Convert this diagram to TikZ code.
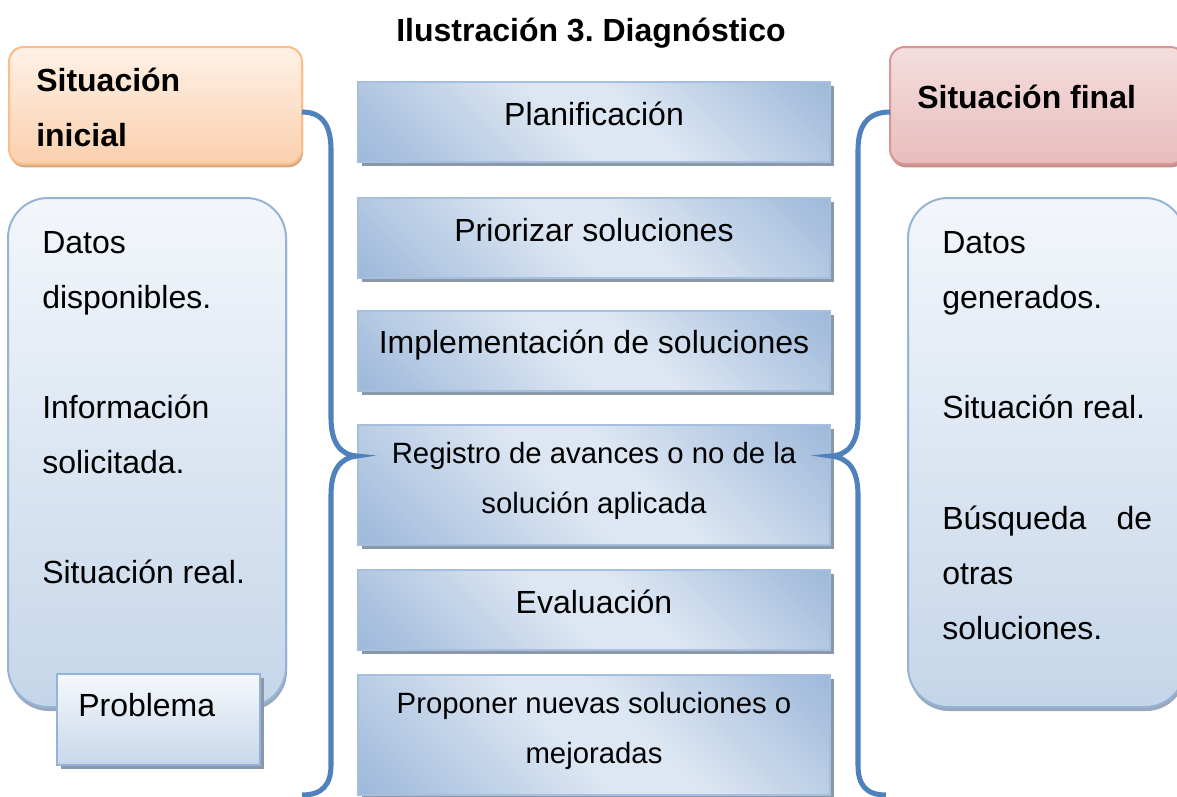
\documentclass[tikz,border=0pt]{standalone}
\usepackage{fontspec}
\setmainfont{Liberation Sans}
\usetikzlibrary{shadows}
\frenchspacing
\definecolor{bracec}{HTML}{4F81BD}
\definecolor{cdark}{HTML}{93B1D6}
\definecolor{clight}{HTML}{DDE7F3}
\definecolor{cborder}{HTML}{A6BFDD}
\definecolor{cshadow}{HTML}{8A98AA}
\definecolor{bigbot}{HTML}{B9CDE5}
\definecolor{bigborder}{HTML}{95B3D7}
\definecolor{bigshadow}{HTML}{9AA8BA}
\definecolor{ortop}{HTML}{FFF8F2}
\definecolor{orbot}{HTML}{FAC9A2}
\definecolor{orborder}{HTML}{F9BE8A}
\definecolor{orshadow}{HTML}{D4A985}
\definecolor{pktop}{HTML}{F6E4E4}
\definecolor{pkbot}{HTML}{E5B7B6}
\definecolor{pkborder}{HTML}{D99694}
\definecolor{pkshadow}{HTML}{C29290}
\pgfdeclareverticalshading{cboxshade}{100bp}{color(0bp)=(cdark); color(10bp)=(cdark); color(46bp)=(clight); color(56bp)=(clight); color(90bp)=(cdark); color(100bp)=(cdark)}
\pgfdeclareverticalshading{bigshade}{100bp}{color(0bp)=(bigbot); color(12bp)=(bigbot); color(88bp)=(white); color(100bp)=(white)}
\pgfdeclareverticalshading{orshade}{100bp}{color(0bp)=(orbot); color(15bp)=(orbot); color(85bp)=(ortop); color(100bp)=(ortop)}
\pgfdeclareverticalshading{pkshade}{100bp}{color(0bp)=(pkbot); color(15bp)=(pkbot); color(85bp)=(pktop); color(100bp)=(pktop)}
\pgfdeclareverticalshading{probshade}{100bp}{color(0bp)=(bigbot); color(10bp)=(bigbot); color(85bp)=(white); color(100bp)=(white)}
\tikzset{
  txt/.style={font=\fontsize{24}{28}\selectfont, inner sep=0pt},
  stxt/.style={font=\fontsize{22}{26}\selectfont, inner sep=0pt},
  btxt/.style={font=\fontsize{24}{28}\selectfont\bfseries, inner sep=0pt},
  cbox/.style={draw=cborder, line width=0.9pt, shading=cboxshade, shading angle=-45,
    minimum width=354pt, inner sep=0pt,
    drop shadow={shadow xshift=3pt, shadow yshift=-3pt, fill=cshadow, opacity=1}},
  bigbox/.style={draw=bigborder, line width=1.5pt, shading=bigshade, rounded corners=30pt,
    inner sep=0pt,
    drop shadow={shadow xshift=0.8pt, shadow yshift=-3pt, fill=bigshadow, opacity=1}},
  bracestyle/.style={draw=bracec, line width=3.8pt}
}
\begin{document}
\begin{tikzpicture}[x=0.75pt,y=-0.75pt]
\useasboundingbox (0,0) rectangle (1177,796);
\fill[white] (0,0) rectangle (1177,796);
\clip (0,0) rectangle (1177,796);

% title
\node[btxt, anchor=base] (title) at (591,41.5) {Ilustración 3. Diagnóstico};

% left column
\node[draw=orborder, line width=1.5pt, shading=orshade, rounded corners=11pt,
  minimum width=219.75pt, minimum height=87.75pt, inner sep=0pt,
  drop shadow={shadow xshift=0.8pt, shadow yshift=-2.5pt, fill=orshadow, opacity=1}]
  (sinicial) at (155.5,105.5) {};
\node[btxt, anchor=base west] (si1) at (36,91.5) {Situación};
\node[btxt, anchor=base west] (si2) at (36,146) {inicial};

\node[bigbox, minimum width=208.5pt, minimum height=381.75pt] (lbig) at (147,452.5) {};
\node[txt, anchor=base west] (l1) at (42,253) {Datos};
\node[txt, anchor=base west] (l2) at (42,308) {disponibles.};
\node[txt, anchor=base west] (l3) at (42,418) {Información};
\node[txt, anchor=base west] (l4) at (42,473) {solicitada.};
\node[txt, anchor=base west] (l5) at (42,583) {Situación real.};

\node[draw=bigborder, line width=1pt, shading=probshade, minimum width=152.25pt,
  minimum height=68.25pt, inner sep=0pt,
  drop shadow={shadow xshift=3pt, shadow yshift=-3pt, fill=cshadow, opacity=1}]
  (prob) at (158.5,719.5) {};
\node[txt, anchor=base west] (probt) at (78,716) {Problema};

% center boxes
\node[cbox, minimum height=60pt] (c1) at (594,122) {};
\node[txt, anchor=base] (c1t) at (594,125) {Planificación};
\node[cbox, minimum height=60pt] (c2) at (594,238) {};
\node[txt, anchor=base] (c2t) at (594,241) {Priorizar soluciones};
\node[cbox, minimum height=60pt] (c3) at (594,351) {};
\node[txt, anchor=base] (c3t) at (594,353) {Implementación de soluciones};
\node[cbox, minimum height=90pt] (c4) at (594,485) {};
\node[stxt, anchor=base] (c4a) at (594,463) {Registro de avances o no de la};
\node[stxt, anchor=base] (c4b) at (594,513) {solución aplicada};
\node[cbox, minimum height=60pt] (c5) at (594,610) {};
\node[txt, anchor=base] (c5t) at (594,613) {Evaluación};
\node[cbox, minimum height=90pt] (c6) at (594,735) {};
\node[stxt, anchor=base] (c6a) at (594,713) {Proponer nuevas soluciones o};
\node[stxt, anchor=base] (c6b) at (594,763) {mejoradas};

% right column
\node[draw=pkborder, line width=1.5pt, shading=pkshade, rounded corners=11pt,
  minimum width=221.25pt, minimum height=87.75pt, inner sep=0pt,
  drop shadow={shadow xshift=0.8pt, shadow yshift=-2.5pt, fill=pkshadow, opacity=1}]
  (sfinal) at (1037.5,105.5) {};
\node[btxt, anchor=base west] (sf1) at (917,108) {Situación final};

\node[bigbox, minimum width=207.75pt, minimum height=381.75pt] (rbig) at (1046.5,452.5) {};
\node[txt, anchor=base west] (r1) at (942,253) {Datos};
\node[txt, anchor=base west] (r2) at (942,308) {generados.};
\node[txt, anchor=base west] (r3) at (942,418) {Situación real.};
\node[txt, anchor=base west] (r4) at (942,529) {\hbox to 157.5pt{Búsqueda\hfill de}};
\node[txt, anchor=base west] (r5) at (942,584) {otras};
\node[txt, anchor=base west] (r6) at (942,639) {soluciones.};

% braces
\coordinate (lbtop) at (302,112);
\coordinate (lbtip) at (357,456);
\coordinate (lbbot) at (302,795);
\coordinate (rbtop) at (890,112);
\coordinate (rbtip) at (831,456);
\coordinate (rbbot) at (886,795);
\draw[bracestyle] (lbtop) .. controls (322,112) and (331,125) .. (331,150)
  -- (331,418) .. controls (331,442) and (340,455) .. (lbtip)
  .. controls (340,458) and (331,470) .. (331,495)
  -- (331,765) .. controls (331,785) and (322,795) .. (lbbot);
\draw[bracestyle] (rbtop) .. controls (868,112) and (858,125) .. (858,150)
  -- (858,418) .. controls (858,442) and (849,455) .. (rbtip)
  .. controls (849,458) and (858,470) .. (858,495)
  -- (858,765) .. controls (858,785) and (866,795) .. (rbbot);
\end{tikzpicture}
\end{document}
